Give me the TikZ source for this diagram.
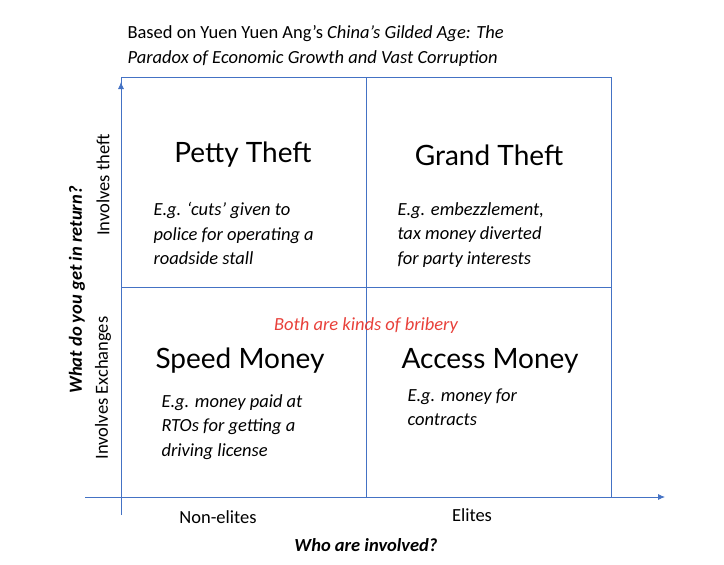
\documentclass[tikz,border=0pt]{standalone}
\usepackage{fontspec}
\setmainfont{Carlito}
\newfontfamily\headfont{Lato}
\usetikzlibrary{arrows.meta}
\definecolor{gridblue}{HTML}{4472C4}
\definecolor{bribered}{HTML}{E8403A}
\tikzset{
  grid line/.style={gridblue, line width=0.8pt},
  axis/.style={gridblue, line width=0.8pt, -{Latex[length=7pt,width=6pt]}},
  head/.style={font=\headfont\fontsize{28}{32}\selectfont},
  example/.style={align=left, anchor=north west, font=\itshape\fontsize{18.5}{24.5}\selectfont},
  side/.style={rotate=90, font=\fontsize{18.5}{22}\selectfont},
}
\begin{document}
\begin{tikzpicture}[x=1pt,y=-1pt]
  \useasboundingbox (0,0) rectangle (724,565);
  %title
  \node[anchor=north west, align=left, font=\fontsize{18.5}{24.5}\selectfont] (title) at (124,22)
    {Based on Yuen Yuen Ang's \textit{China's Gilded Age: The}\\\textit{Paradox of Economic Growth and Vast Corruption}};
  %grid
  \draw[grid line] (121,77) rectangle (611,497);
  \draw[grid line] (366,77) -- (366,497);
  \draw[grid line] (121,287) -- (611,287);
  \draw[axis] (121,515) -- (121,82);
  \draw[axis] (85,497) -- (665,497);
  %quadrants
  \node[head] (petty) at (243,155) {Petty Theft};
  \node[head] (grand) at (489,155) {Grand Theft};
  \node[head] (speed) at (240,361) {Speed Money};
  \node[head] (access) at (490,361) {Access Money};
  \node[example] (pettyex) at (150,199) {E.g. `cuts' given to\\police for operating a\\roadside stall};
  \node[example] (grandex) at (394,199) {E.g. embezzlement,\\tax money diverted\\for party interests};
  \node[example] (speedex) at (158,391) {E.g. money paid at\\RTOs for getting a\\driving license};
  \node[example] (accessex) at (404,385) {E.g. money for\\contracts};
  \node[text=bribered, font=\itshape\fontsize{18.5}{22}\selectfont] (bribery) at (366,326) {Both are kinds of bribery};
  %axis labels
  \node[font=\fontsize{18.5}{22}\selectfont] (nonelites) at (218,517) {Non-elites};
  \node[font=\fontsize{18.5}{22}\selectfont] (elites) at (472,515) {Elites};
  \node[font=\bfseries\itshape\fontsize{18.5}{22}\selectfont] (who) at (366,545) {Who are involved?};
  \node[side] (theft) at (103,185) {Involves theft};
  \node[side] (exchanges) at (103,388) {Involves Exchanges};
  \node[side, font=\bfseries\itshape\fontsize{18.5}{22}\selectfont] (what) at (77,290) {What do you get in return?};
\end{tikzpicture}
\end{document}
